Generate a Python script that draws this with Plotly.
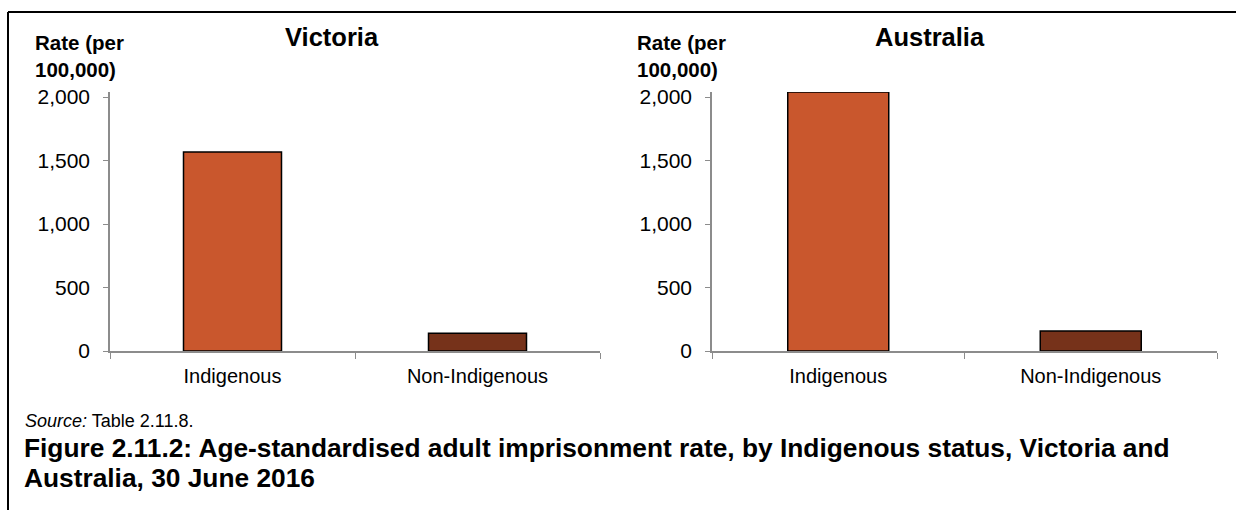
import plotly.graph_objects as go

W, H = 1236, 510

categories = ["Indigenous", "Non-Indigenous"]
victoria = [1567, 139]
australia = [2039, 157]
panel_titles = ["Victoria", "Australia"]
y_ticks = [0, 500, 1000, 1500, 2000]
y_ticklabels = ["0", "500", "1,000", "1,500", "2,000"]
bar_colors = ["#C9572D", "#76321A"]
caption_lines = ["Figure 2.11.2: Age-standardised adult imprisonment rate, by Indigenous status, Victoria and",
                 "Australia, 30 June 2016"]

FONT = "Liberation Sans, Arial, sans-serif"
Y_MAX = 2040


def px_x(x):
    return x / W


def px_y(y):
    return 1 - y / H


fig = go.Figure()
fig.add_trace(go.Bar(x=categories, y=victoria, marker=dict(color=bar_colors, line=dict(color="black", width=1.5)),
                     width=0.4, xaxis="x", yaxis="y", showlegend=False, hoverinfo="x+y"))
fig.add_trace(go.Bar(x=categories, y=australia, marker=dict(color=bar_colors, line=dict(color="black", width=1.5)),
                     width=0.4, xaxis="x2", yaxis="y2", showlegend=False, hoverinfo="x+y"))

xax = dict(showline=True, linecolor="#8c8c8c", linewidth=1.5, ticks="outside", tickson="boundaries",
           ticklen=6, tickcolor="#8c8c8c", showgrid=False, zeroline=False, ticklabelstandoff=6,
           tickfont=dict(family=FONT, size=20, color="black"), fixedrange=True, automargin=False)
yax = dict(showline=True, linecolor="#8c8c8c", linewidth=1.5, ticks="outside", ticklen=5, tickcolor="#8c8c8c",
           showgrid=False, zeroline=False, range=[0, Y_MAX], tickvals=y_ticks, ticktext=y_ticklabels,
           ticklabelstandoff=9, tickfont=dict(family=FONT, size=21, color="black"), fixedrange=True,
           automargin=False)

# 2,000 sits at y=97px and 0 at y=351px
top_px = 351 - (351 - 97) * Y_MAX / 2000
y_dom = [px_y(351), px_y(top_px)]

fig.update_layout(
    width=W, height=H, autosize=False,
    margin=dict(l=0, r=0, t=0, b=0, pad=0),
    paper_bgcolor="white", plot_bgcolor="white",
    xaxis=dict(xax, domain=[px_x(110), px_x(600)], anchor="y"),
    yaxis=dict(yax, domain=y_dom, anchor="x"),
    xaxis2=dict(xax, domain=[px_x(712), px_x(1217)], anchor="y2"),
    yaxis2=dict(yax, domain=y_dom, anchor="x2"),
)

annotations = []
# panel titles
for title, cx in zip(panel_titles, [332, 930]):
    annotations.append(dict(text="<b>%s</b>" % title, x=px_x(cx), y=px_y(37), xref="paper", yref="paper",
                            xanchor="center", yanchor="middle", showarrow=False,
                            font=dict(family=FONT, size=25.5, color="black")))
# y axis titles
for lx in [33, 635]:
    annotations.append(dict(text="<b>Rate (per<br>100,000)</b>", x=px_x(lx), y=px_y(29), xref="paper",
                            yref="paper", xanchor="left", yanchor="top", align="left", showarrow=False,
                            font=dict(family=FONT, size=20.5, color="black")))
# source
annotations.append(dict(text="<i>Source:</i> Table 2.11.8.", x=px_x(23), y=px_y(421), xref="paper", yref="paper",
                        xanchor="left", yanchor="middle", showarrow=False,
                        font=dict(family=FONT, size=18, color="black")))
# caption, one annotation per line
for line, cy in zip(caption_lines, [448, 478]):
    annotations.append(dict(text="<b>%s</b>" % line, x=px_x(22), y=px_y(cy), xref="paper", yref="paper",
                            xanchor="left", yanchor="middle", showarrow=False,
                            font=dict(family=FONT, size=26.3, color="black")))
fig.update_layout(annotations=annotations)

# frame lines (top and left)
fig.add_shape(type="line", xref="paper", yref="paper", x0=px_x(8), x1=1, y0=px_y(12), y1=px_y(12),
              line=dict(color="black", width=2))
fig.add_shape(type="line", xref="paper", yref="paper", x0=px_x(8), x1=px_x(8), y0=px_y(12), y1=0,
              line=dict(color="black", width=2))

fig.write_html("out.html", config=dict(displayModeBar=False, responsive=False),
               post_script="document.body.style.margin='0';document.body.style.overflow='hidden';")
